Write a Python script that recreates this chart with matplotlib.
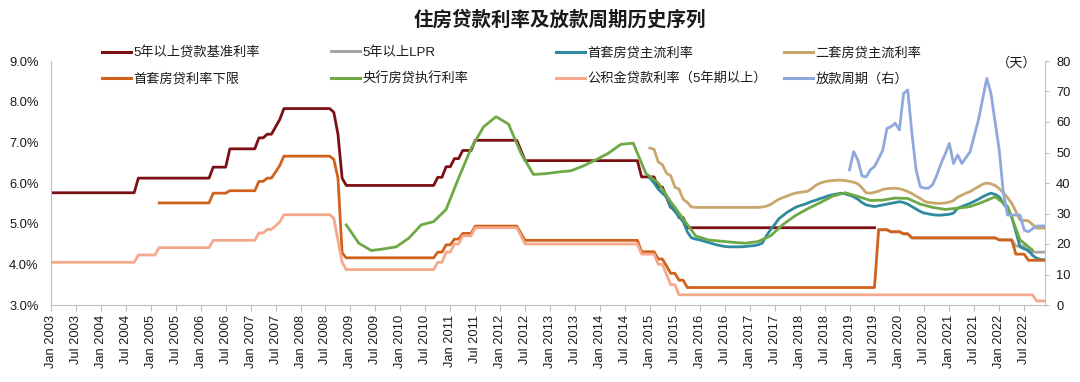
import matplotlib
matplotlib.use("Agg")
import matplotlib.pyplot as plt
from matplotlib.lines import Line2D
from matplotlib.ticker import FuncFormatter, MultipleLocator

plt.rcParams['font.family'] = ['Liberation Sans', 'Noto Sans CJK SC', 'DejaVu Sans']


def mi(s):
    # "YYYY-MM" -> months since Jan 2003
    y, m = s.split("-")
    return (int(y) - 2003) * 12 + int(m) - 1


# ---- data (rates in %, lending cycle in days) ----
bench_dates = ["2003-01", "2004-09", "2004-10", "2006-03", "2006-04", "2006-07", "2006-08",
               "2007-02", "2007-03", "2007-04", "2007-05", "2007-06", "2007-07", "2007-08",
               "2007-09", "2008-08", "2008-09", "2008-10", "2008-11", "2008-12", "2010-09",
               "2010-10", "2010-11", "2010-12", "2011-01", "2011-02", "2011-03", "2011-04",
               "2011-06", "2011-07", "2012-05", "2012-06", "2012-07", "2014-10", "2014-11",
               "2015-02", "2015-03", "2015-04", "2015-05", "2015-06", "2015-07", "2015-08",
               "2015-09", "2015-10", "2019-07"]
bench_vals = [5.76, 5.76, 6.12, 6.12, 6.39, 6.39, 6.84,
              6.84, 7.11, 7.11, 7.20, 7.20, 7.38, 7.56,
              7.83, 7.83, 7.74, 7.20, 6.12, 5.94, 5.94,
              6.14, 6.14, 6.40, 6.40, 6.60, 6.60, 6.80,
              6.80, 7.05, 7.05, 6.80, 6.55, 6.55, 6.15,
              6.15, 5.90, 5.90, 5.65, 5.40, 5.40, 5.15,
              5.15, 4.90, 4.90]

lpr_dates = ["2019-08", "2019-10", "2019-11", "2020-01", "2020-02", "2020-03", "2020-04",
             "2021-12", "2022-01", "2022-04", "2022-05", "2022-07", "2022-08", "2022-12"]
lpr_vals = [4.85, 4.85, 4.80, 4.80, 4.75, 4.75, 4.65,
            4.65, 4.60, 4.60, 4.45, 4.45, 4.30, 4.30]

floor_dates = ["2005-03", "2006-03", "2006-04", "2006-07", "2006-08", "2007-02", "2007-03",
               "2007-04", "2007-05", "2007-06", "2007-07", "2007-08", "2007-09", "2008-08",
               "2008-09", "2008-10", "2008-11", "2008-12", "2010-09", "2010-10", "2010-11",
               "2010-12", "2011-01", "2011-02", "2011-03", "2011-04", "2011-06", "2011-07",
               "2012-05", "2012-06", "2012-07", "2014-10", "2014-11", "2015-02", "2015-03",
               "2015-04", "2015-05", "2015-06", "2015-07", "2015-08", "2015-09", "2015-10",
               "2019-07", "2019-08", "2019-10", "2019-11", "2020-01", "2020-02", "2020-03",
               "2020-04", "2021-12", "2022-01", "2022-04", "2022-05", "2022-07", "2022-08",
               "2022-12"]
floor_vals = [5.51, 5.51, 5.75, 5.75, 5.81, 5.81, 6.04,
              6.04, 6.12, 6.12, 6.27, 6.43, 6.66, 6.66,
              6.58, 6.12, 4.28, 4.16, 4.16, 4.30, 4.30,
              4.48, 4.48, 4.62, 4.62, 4.76, 4.76, 4.94,
              4.94, 4.76, 4.59, 4.59, 4.31, 4.31, 4.13,
              4.13, 3.96, 3.78, 3.78, 3.61, 3.61, 3.43,
              3.43, 4.85, 4.85, 4.80, 4.80, 4.75, 4.75,
              4.65, 4.65, 4.60, 4.60, 4.25, 4.25, 4.10,
              4.10]

fund_dates = ["2003-01", "2004-09", "2004-10", "2005-02", "2005-03", "2006-03", "2006-04",
              "2007-02", "2007-03", "2007-04", "2007-05", "2007-06", "2007-07", "2007-08",
              "2007-09", "2008-08", "2008-09", "2008-10", "2008-11", "2008-12", "2010-09",
              "2010-10", "2010-11", "2010-12", "2011-01", "2011-02", "2011-03", "2011-04",
              "2011-06", "2011-07", "2012-05", "2012-06", "2012-07", "2014-10", "2014-11",
              "2015-02", "2015-03", "2015-04", "2015-05", "2015-06", "2015-07", "2015-08",
              "2022-09", "2022-10", "2022-12"]
fund_vals = [4.05, 4.05, 4.23, 4.23, 4.41, 4.41, 4.59,
             4.59, 4.77, 4.77, 4.86, 4.86, 4.95, 5.04,
             5.22, 5.22, 5.13, 4.59, 4.05, 3.87, 3.87,
             4.05, 4.05, 4.30, 4.30, 4.50, 4.50, 4.70,
             4.70, 4.90, 4.90, 4.70, 4.50, 4.50, 4.25,
             4.25, 4.00, 4.00, 3.75, 3.50, 3.50, 3.25,
             3.25, 3.10, 3.10]

# PBOC weighted mortgage rate, quarterly from 2008Q4
pboc_start = "2008-12"
pboc_vals = [4.97, 4.52, 4.34, 4.38, 4.43, 4.64, 4.97, 5.05, 5.35, 6.12, 6.85, 7.38, 7.63,
             7.45, 6.73, 6.21, 6.23, 6.27, 6.30, 6.42, 6.57, 6.73, 6.95, 6.98, 6.24, 6.00,
             5.54, 5.12, 4.70, 4.60, 4.57, 4.54, 4.52, 4.56, 4.70, 4.98, 5.20, 5.37, 5.52,
             5.68, 5.76, 5.67, 5.57, 5.58, 5.63, 5.62, 5.48, 5.40, 5.35, 5.38, 5.42, 5.53,
             5.66, 5.43, 4.60, 4.35]

# monthly mainstream rates from Jan 2015
main_start = "2015-01"
first_vals = [6.12, 6.00, 5.85, 5.75, 5.65, 5.42, 5.30, 5.17, 5.05, 4.80, 4.65, 4.62,
              4.60, 4.57, 4.54, 4.51, 4.48, 4.46, 4.44, 4.43, 4.43, 4.43, 4.43, 4.44,
              4.45, 4.46, 4.48, 4.52, 4.70, 4.85, 4.98, 5.12, 5.20, 5.28, 5.34, 5.40,
              5.44, 5.47, 5.51, 5.55, 5.58, 5.62, 5.65, 5.69, 5.71, 5.73, 5.75, 5.73,
              5.70, 5.66, 5.60, 5.52, 5.46, 5.44, 5.42, 5.44, 5.46, 5.48, 5.50, 5.52,
              5.54, 5.52, 5.48, 5.42, 5.36, 5.30, 5.26, 5.24, 5.22, 5.21, 5.21, 5.22,
              5.23, 5.26, 5.38, 5.42, 5.46, 5.50, 5.55, 5.60, 5.66, 5.71, 5.75, 5.72,
              5.66, 5.50, 5.35, 5.17, 4.80, 4.43, 4.38, 4.35, 4.22, 4.15, 4.12, 4.11]
second_vals = [6.86, 6.83, 6.52, 6.45, 6.24, 6.18, 5.90, 5.85, 5.60, 5.52, 5.41, 5.40,
               5.40, 5.40, 5.40, 5.40, 5.40, 5.40, 5.40, 5.40, 5.40, 5.40, 5.40, 5.40,
               5.40, 5.40, 5.40, 5.41, 5.43, 5.47, 5.54, 5.60, 5.64, 5.68, 5.72, 5.75,
               5.77, 5.78, 5.80, 5.87, 5.95, 6.00, 6.03, 6.05, 6.06, 6.07, 6.07, 6.06,
               6.04, 6.02, 5.98, 5.88, 5.76, 5.75, 5.77, 5.80, 5.84, 5.86, 5.87, 5.87,
               5.86, 5.83, 5.79, 5.74, 5.68, 5.62, 5.55, 5.52, 5.51, 5.50, 5.50, 5.51,
               5.53, 5.57, 5.65, 5.70, 5.75, 5.79, 5.85, 5.91, 5.97, 6.00, 5.98, 5.94,
               5.86, 5.76, 5.64, 5.50, 5.30, 5.09, 5.08, 5.07, 4.98, 4.89, 4.89, 4.89]

# lending cycle (days), monthly from Jan 2019
cycle_start = "2019-01"
cycle_vals = [44.3, 50.3, 47.5, 42.3, 42.0, 44.3, 45.4, 48.0, 50.8, 57.9, 58.5, 59.6,
              57.4, 69.4, 70.5, 56.3, 44.3, 38.8, 38.3, 38.3, 39.5, 42.6, 46.4, 49.5,
              53.0, 46.4, 49.2, 46.4, 48.3, 50.3, 55.5, 60.7, 67.5, 74.3, 69.4, 60.0,
              50.8, 36.6, 29.5, 29.5, 29.5, 29.5, 24.6, 24.0, 25.0, 25.9, 25.9, 25.9]

tick_pos = list(range(0, 235, 6))
tick_labels = [f"{mo} {y}" for y in range(2003, 2023) for mo in ("Jan", "Jul")]

labels = ["5年以上贷款基准利率", "5年以上LPR", "首套房贷主流利率", "二套房贷主流利率",
          "首套房贷利率下限", "央行房贷执行利率", "公积金贷款利率（5年期以上）", "放款周期（右）"]
colors = ["#7A1014", "#A6A6A6", "#2F8AA0", "#C8A66C",
          "#D0621C", "#6DAA45", "#F5A98C", "#8FA9DC"]

# ---- figure ----
fig = plt.figure(figsize=(10.8, 3.82), dpi=100)
ax = fig.add_axes([51 / 1080, 1 - 305 / 382, 994 / 1080, 244 / 382])
ax2 = ax.twinx()

lw = 2.0
ax.plot([mi(d) for d in bench_dates], bench_vals, color=colors[0], lw=lw, zorder=2)
ax.plot([mi(d) for d in lpr_dates], lpr_vals, color=colors[1], lw=lw, zorder=2)
mx = [mi(main_start) + i for i in range(len(first_vals))]
ax.plot(mx, first_vals, color=colors[2], lw=lw, zorder=3)
ax.plot(mx, second_vals, color=colors[3], lw=lw, zorder=3)
ax.plot([mi(d) for d in floor_dates], floor_vals, color=colors[4], lw=lw, zorder=4)
px = [mi(pboc_start) + 3 * i for i in range(len(pboc_vals))]
ax.plot(px, pboc_vals, color=colors[5], lw=lw, zorder=4)
ax.plot([mi(d) for d in fund_dates], fund_vals, color=colors[6], lw=lw, zorder=4)
cx = [mi(cycle_start) + i for i in range(len(cycle_vals))]
ax2.plot(cx, cycle_vals, color=colors[7], lw=lw)

ax.set_xlim(0, 239)
ax.set_ylim(3, 9)
ax.yaxis.set_major_locator(MultipleLocator(1))
ax.yaxis.set_major_formatter(FuncFormatter(lambda v, p: f"{v:.1f}%"))
ax2.set_ylim(0, 80)
ax2.yaxis.set_major_locator(MultipleLocator(10))

ax.set_xticks(tick_pos)
ax.set_xticklabels(tick_labels, rotation=90, fontsize=9.3)
ax.tick_params(axis="x", length=4, color="#BFBFBF", pad=3, labelcolor="#1a1a1a")
ax.tick_params(axis="y", length=0, pad=9, labelsize=9.3, labelcolor="#1a1a1a")
ax2.tick_params(axis="y", length=3, color="#BFBFBF", pad=5, labelsize=9.3, labelcolor="#1a1a1a")

for a in (ax, ax2):
    a.spines["top"].set_visible(False)
ax.spines["right"].set_visible(False)
ax2.spines["left"].set_visible(False)
ax2.spines["bottom"].set_visible(False)
for s in ("left", "bottom"):
    ax.spines[s].set_color("#BFBFBF")
ax2.spines["right"].set_color("#BFBFBF")

fig.text(560 / 1080, 1 - 20 / 382, "住房贷款利率及放款周期历史序列", ha="center", va="center",
         fontsize=14, fontweight="bold", color="#1a1a1a")
fig.text(1017 / 1080, 1 - 63 / 382, "（天）", ha="center", va="center", fontsize=9.5,
         color="#1a1a1a")

col_x = [102, 331, 556, 784]
for c in range(4):
    hs = [Line2D([], [], color=colors[c], lw=2.2), Line2D([], [], color=colors[c + 4], lw=2.2)]
    fig.legend(hs, [labels[c], labels[c + 4]], loc="center left",
               bbox_to_anchor=(col_x[c] / 1080, 1 - 66 / 382), frameon=False,
               fontsize=9.5, handlelength=2.2, handletextpad=0.2, labelspacing=1.0,
               borderpad=0, borderaxespad=0, labelcolor="#1a1a1a")

fig.savefig("out.png", dpi=100)
